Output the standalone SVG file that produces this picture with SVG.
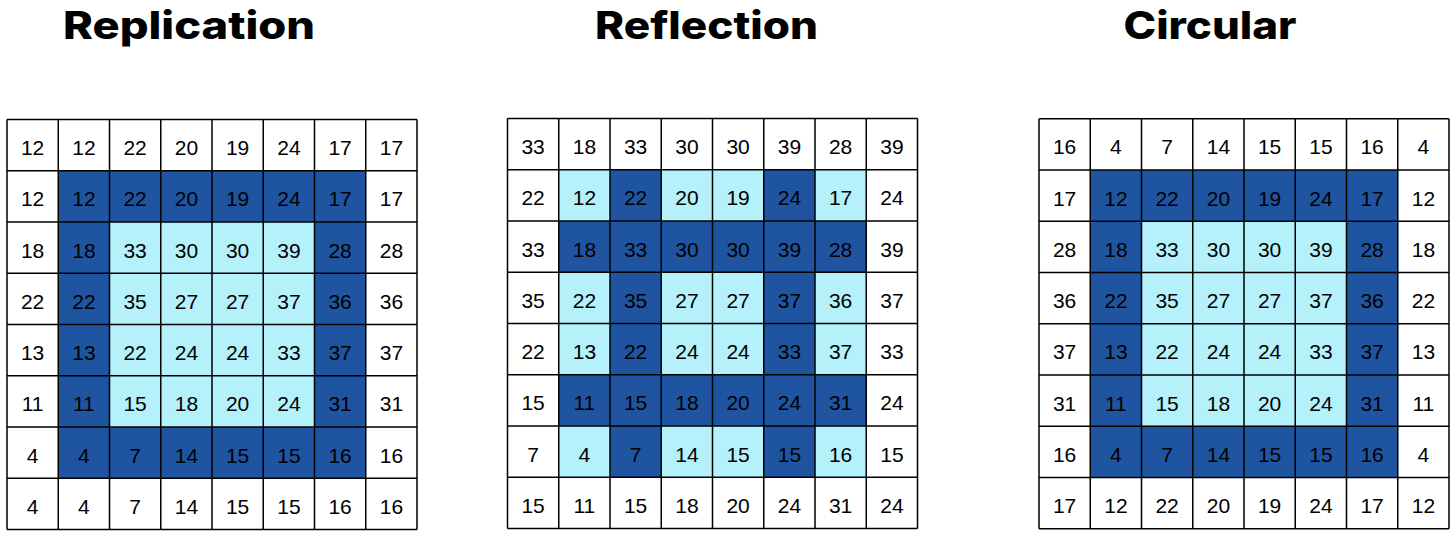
<svg xmlns="http://www.w3.org/2000/svg" width="1454" height="533" viewBox="0 0 1454 533">
<style>
.title{font-family:Inter,"Open Sans","Liberation Sans",sans-serif;font-weight:800;font-size:38px;fill:#000}
.n{font-family:"Liberation Sans",Arial,sans-serif;font-size:21px;fill:#000;text-anchor:middle}
.dark{fill:#1f55a0}
.light{fill:#b4f1fb}
.grid{fill:none;stroke:#000;stroke-width:1.5}
</style>
<defs>
<path id="lines" class="grid" d="M0,0H410M0,51.25H410M0,102.5H410M0,153.75H410M0,205H410M0,256.25H410M0,307.5H410M0,358.75H410M0,410H410M0,0V410M51.25,0V410M102.5,0V410M153.75,0V410M205,0V410M256.25,0V410M307.5,0V410M358.75,0V410M410,0V410"/>
</defs>
<rect width="1454" height="533" fill="#fff"/>
<text class="title" x="63" y="38.5" textLength="252" lengthAdjust="spacingAndGlyphs">Replication</text>
<text class="title" x="595" y="38.5" textLength="223" lengthAdjust="spacingAndGlyphs">Reflection</text>
<text class="title" x="1123.5" y="38.5" textLength="173" lengthAdjust="spacingAndGlyphs">Circular</text>

<g id="replication" transform="translate(7,119.5)">
<rect class="dark" x="51.25" y="51.25" width="307.5" height="307.5"/>
<rect class="light" x="102.5" y="102.5" width="205" height="205"/>
<use href="#lines"/>
<g class="n">
<text x="25.6" y="35.5">12</text><text x="76.9" y="35.5">12</text><text x="128.1" y="35.5">22</text><text x="179.4" y="35.5">20</text><text x="230.6" y="35.5">19</text><text x="281.9" y="35.5">24</text><text x="333.1" y="35.5">17</text><text x="384.4" y="35.5">17</text>
<text x="25.6" y="86.8">12</text><text x="76.9" y="86.8">12</text><text x="128.1" y="86.8">22</text><text x="179.4" y="86.8">20</text><text x="230.6" y="86.8">19</text><text x="281.9" y="86.8">24</text><text x="333.1" y="86.8">17</text><text x="384.4" y="86.8">17</text>
<text x="25.6" y="138">18</text><text x="76.9" y="138">18</text><text x="128.1" y="138">33</text><text x="179.4" y="138">30</text><text x="230.6" y="138">30</text><text x="281.9" y="138">39</text><text x="333.1" y="138">28</text><text x="384.4" y="138">28</text>
<text x="25.6" y="189.3">22</text><text x="76.9" y="189.3">22</text><text x="128.1" y="189.3">35</text><text x="179.4" y="189.3">27</text><text x="230.6" y="189.3">27</text><text x="281.9" y="189.3">37</text><text x="333.1" y="189.3">36</text><text x="384.4" y="189.3">36</text>
<text x="25.6" y="240.5">13</text><text x="76.9" y="240.5">13</text><text x="128.1" y="240.5">22</text><text x="179.4" y="240.5">24</text><text x="230.6" y="240.5">24</text><text x="281.9" y="240.5">33</text><text x="333.1" y="240.5">37</text><text x="384.4" y="240.5">37</text>
<text x="25.6" y="291.8">11</text><text x="76.9" y="291.8">11</text><text x="128.1" y="291.8">15</text><text x="179.4" y="291.8">18</text><text x="230.6" y="291.8">20</text><text x="281.9" y="291.8">24</text><text x="333.1" y="291.8">31</text><text x="384.4" y="291.8">31</text>
<text x="25.6" y="343">4</text><text x="76.9" y="343">4</text><text x="128.1" y="343">7</text><text x="179.4" y="343">14</text><text x="230.6" y="343">15</text><text x="281.9" y="343">15</text><text x="333.1" y="343">16</text><text x="384.4" y="343">16</text>
<text x="25.6" y="394.3">4</text><text x="76.9" y="394.3">4</text><text x="128.1" y="394.3">7</text><text x="179.4" y="394.3">14</text><text x="230.6" y="394.3">15</text><text x="281.9" y="394.3">15</text><text x="333.1" y="394.3">16</text><text x="384.4" y="394.3">16</text>
</g>
</g>

<g id="reflection" transform="translate(507.5,118.5)">
<rect class="light" x="51.25" y="51.25" width="307.5" height="307.5"/>
<rect class="dark" x="51.25" y="102.5" width="307.5" height="51.25"/>
<rect class="dark" x="51.25" y="256.25" width="307.5" height="51.25"/>
<rect class="dark" x="102.5" y="51.25" width="51.25" height="307.5"/>
<rect class="dark" x="256.25" y="51.25" width="51.25" height="307.5"/>
<use href="#lines"/>
<g class="n">
<text x="25.6" y="35.5">33</text><text x="76.9" y="35.5">18</text><text x="128.1" y="35.5">33</text><text x="179.4" y="35.5">30</text><text x="230.6" y="35.5">30</text><text x="281.9" y="35.5">39</text><text x="333.1" y="35.5">28</text><text x="384.4" y="35.5">39</text>
<text x="25.6" y="86.8">22</text><text x="76.9" y="86.8">12</text><text x="128.1" y="86.8">22</text><text x="179.4" y="86.8">20</text><text x="230.6" y="86.8">19</text><text x="281.9" y="86.8">24</text><text x="333.1" y="86.8">17</text><text x="384.4" y="86.8">24</text>
<text x="25.6" y="138">33</text><text x="76.9" y="138">18</text><text x="128.1" y="138">33</text><text x="179.4" y="138">30</text><text x="230.6" y="138">30</text><text x="281.9" y="138">39</text><text x="333.1" y="138">28</text><text x="384.4" y="138">39</text>
<text x="25.6" y="189.3">35</text><text x="76.9" y="189.3">22</text><text x="128.1" y="189.3">35</text><text x="179.4" y="189.3">27</text><text x="230.6" y="189.3">27</text><text x="281.9" y="189.3">37</text><text x="333.1" y="189.3">36</text><text x="384.4" y="189.3">37</text>
<text x="25.6" y="240.5">22</text><text x="76.9" y="240.5">13</text><text x="128.1" y="240.5">22</text><text x="179.4" y="240.5">24</text><text x="230.6" y="240.5">24</text><text x="281.9" y="240.5">33</text><text x="333.1" y="240.5">37</text><text x="384.4" y="240.5">33</text>
<text x="25.6" y="291.8">15</text><text x="76.9" y="291.8">11</text><text x="128.1" y="291.8">15</text><text x="179.4" y="291.8">18</text><text x="230.6" y="291.8">20</text><text x="281.9" y="291.8">24</text><text x="333.1" y="291.8">31</text><text x="384.4" y="291.8">24</text>
<text x="25.6" y="343">7</text><text x="76.9" y="343">4</text><text x="128.1" y="343">7</text><text x="179.4" y="343">14</text><text x="230.6" y="343">15</text><text x="281.9" y="343">15</text><text x="333.1" y="343">16</text><text x="384.4" y="343">15</text>
<text x="25.6" y="394.3">15</text><text x="76.9" y="394.3">11</text><text x="128.1" y="394.3">15</text><text x="179.4" y="394.3">18</text><text x="230.6" y="394.3">20</text><text x="281.9" y="394.3">24</text><text x="333.1" y="394.3">31</text><text x="384.4" y="394.3">24</text>
</g>
</g>

<g id="circular" transform="translate(1039,118.8)">
<rect class="dark" x="51.25" y="51.25" width="307.5" height="307.5"/>
<rect class="light" x="102.5" y="102.5" width="205" height="205"/>
<use href="#lines"/>
<g class="n">
<text x="25.6" y="35.5">16</text><text x="76.9" y="35.5">4</text><text x="128.1" y="35.5">7</text><text x="179.4" y="35.5">14</text><text x="230.6" y="35.5">15</text><text x="281.9" y="35.5">15</text><text x="333.1" y="35.5">16</text><text x="384.4" y="35.5">4</text>
<text x="25.6" y="86.8">17</text><text x="76.9" y="86.8">12</text><text x="128.1" y="86.8">22</text><text x="179.4" y="86.8">20</text><text x="230.6" y="86.8">19</text><text x="281.9" y="86.8">24</text><text x="333.1" y="86.8">17</text><text x="384.4" y="86.8">12</text>
<text x="25.6" y="138">28</text><text x="76.9" y="138">18</text><text x="128.1" y="138">33</text><text x="179.4" y="138">30</text><text x="230.6" y="138">30</text><text x="281.9" y="138">39</text><text x="333.1" y="138">28</text><text x="384.4" y="138">18</text>
<text x="25.6" y="189.3">36</text><text x="76.9" y="189.3">22</text><text x="128.1" y="189.3">35</text><text x="179.4" y="189.3">27</text><text x="230.6" y="189.3">27</text><text x="281.9" y="189.3">37</text><text x="333.1" y="189.3">36</text><text x="384.4" y="189.3">22</text>
<text x="25.6" y="240.5">37</text><text x="76.9" y="240.5">13</text><text x="128.1" y="240.5">22</text><text x="179.4" y="240.5">24</text><text x="230.6" y="240.5">24</text><text x="281.9" y="240.5">33</text><text x="333.1" y="240.5">37</text><text x="384.4" y="240.5">13</text>
<text x="25.6" y="291.8">31</text><text x="76.9" y="291.8">11</text><text x="128.1" y="291.8">15</text><text x="179.4" y="291.8">18</text><text x="230.6" y="291.8">20</text><text x="281.9" y="291.8">24</text><text x="333.1" y="291.8">31</text><text x="384.4" y="291.8">11</text>
<text x="25.6" y="343">16</text><text x="76.9" y="343">4</text><text x="128.1" y="343">7</text><text x="179.4" y="343">14</text><text x="230.6" y="343">15</text><text x="281.9" y="343">15</text><text x="333.1" y="343">16</text><text x="384.4" y="343">4</text>
<text x="25.6" y="394.3">17</text><text x="76.9" y="394.3">12</text><text x="128.1" y="394.3">22</text><text x="179.4" y="394.3">20</text><text x="230.6" y="394.3">19</text><text x="281.9" y="394.3">24</text><text x="333.1" y="394.3">17</text><text x="384.4" y="394.3">12</text>
</g>
</g>
</svg>
